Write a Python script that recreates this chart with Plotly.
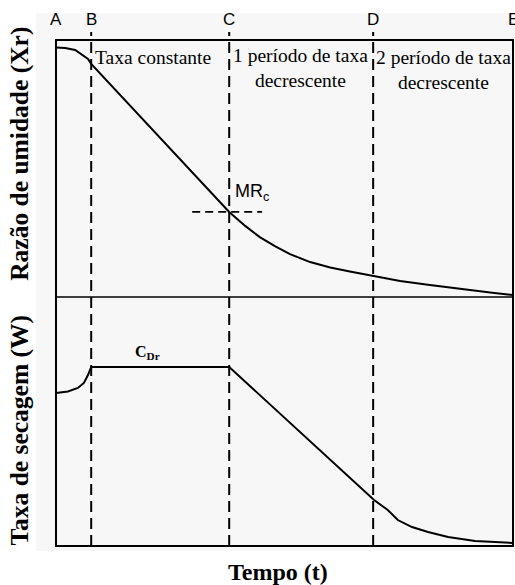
import plotly.graph_objects as go

# Drying kinetics: moisture ratio (top) and drying rate (bottom) vs time
t_xr = [0.0, 0.20, 0.42, 0.59, 0.70, 0.77, 3.79, 4.14, 4.46, 4.79, 5.12, 5.56,
        6.00, 6.43, 6.94, 7.53, 8.18, 8.84, 9.50, 10.0]
xr = [1.000, 0.998, 0.990, 0.970, 0.954, 0.934, 0.341, 0.285, 0.240, 0.204,
      0.172, 0.140, 0.118, 0.102, 0.084, 0.064, 0.048, 0.032, 0.018, 0.008]

t_w = [0.0, 0.26, 0.48, 0.61, 0.70, 0.77, 3.79, 6.96, 7.26, 7.48, 7.79, 8.14,
       8.58, 9.17, 9.61, 10.0]
w = [0.855, 0.863, 0.883, 0.911, 0.955, 1.0, 1.0, 0.257, 0.201, 0.145, 0.106,
     0.078, 0.050, 0.028, 0.022, 0.017]

stage_names = ["A", "B", "C", "D", "E"]
stage_t = [0.0, 0.77, 3.79, 6.94, 10.0]
xr_critical = 0.341
mr_dash_t = [2.98, 4.51]

SERIF = "Liberation Serif"
SANS = "Liberation Sans"
MID = 0.4921

fig = go.Figure()
fig.add_trace(go.Scatter(x=t_xr, y=xr, mode="lines", line=dict(color="black", width=2),
                         xaxis="x", yaxis="y", showlegend=False, hoverinfo="skip"))
fig.add_trace(go.Scatter(x=t_w, y=w, mode="lines", line=dict(color="black", width=2),
                         xaxis="x", yaxis="y2", showlegend=False, hoverinfo="skip"))
# horizontal dashed marker at the critical moisture ratio
fig.add_trace(go.Scatter(x=mr_dash_t, y=[xr_critical, xr_critical], mode="lines",
                         line=dict(color="black", width=1.8, dash="8px,5px"),
                         xaxis="x", yaxis="y", showlegend=False, hoverinfo="skip"))

shapes = [
    dict(type="rect", xref="paper", yref="paper", x0=-0.0438, x1=1.01, y0=-0.0099, y1=1.053,
         fillcolor="#f7f7f7", line=dict(width=0), layer="below"),
    dict(type="rect", xref="paper", yref="paper", x0=0, x1=1, y0=0, y1=1,
         line=dict(color="black", width=2), layer="above"),
    dict(type="line", xref="paper", yref="paper", x0=0, x1=1, y0=MID, y1=MID,
         line=dict(color="black", width=1.5), layer="above"),
]
for tv in stage_t[1:4]:
    shapes.append(dict(type="line", xref="x", yref="paper", x0=tv, x1=tv, y0=0, y1=1.0158,
                       line=dict(color="black", width=2, dash="11px,6px"), layer="above"))

ann = []
for name, tv in zip(stage_names, stage_t):
    ann.append(dict(x=tv, y=1.040, xref="x", yref="paper", text=name, showarrow=False,
                    font=dict(family=SANS, size=17, color="black"),
                    xanchor="center", yanchor="middle"))
ann += [
    dict(x=0.82, y=0.965, xref="x", yref="paper", text="Taxa constante", showarrow=False,
         font=dict(family=SERIF, size=19.5, color="black"), xanchor="left", yanchor="middle"),
    dict(x=5.34, y=0.9437, xref="x", yref="paper", text="1 período de taxa<br>decrescente",
         showarrow=False, font=dict(family=SERIF, size=19.5, color="black"),
         xanchor="center", yanchor="middle"),
    dict(x=8.47, y=0.9410, xref="x", yref="paper", text="2 período de taxa<br>decrescente",
         showarrow=False, font=dict(family=SERIF, size=19.5, color="black"),
         xanchor="center", yanchor="middle"),
    dict(x=3.87, y=0.6996, xref="x", yref="paper", text="MR<sub>c</sub>", showarrow=False,
         font=dict(family=SANS, size=18, color="black"), xanchor="left", yanchor="middle"),
    dict(x=2.01, y=0.383, xref="x", yref="paper", text="<b>C<sub>Dr</sub></b>", showarrow=False,
         font=dict(family=SERIF, size=16, color="black"), xanchor="center", yanchor="middle"),
    dict(x=-0.0788, y=0.775, xref="paper", yref="paper", text="<b>Razão de umidade (Xr)</b>",
         showarrow=False, textangle=-90, font=dict(family=SERIF, size=25.5, color="black"),
         xanchor="center", yanchor="middle"),
    dict(x=-0.0788, y=0.230, xref="paper", yref="paper", text="<b>Taxa de secagem (W)</b>",
         showarrow=False, textangle=-90, font=dict(family=SERIF, size=25.5, color="black"),
         xanchor="center", yanchor="middle"),
    dict(x=0.486, y=-0.051, xref="paper", yref="paper", text="<b>Tempo (t)</b>",
         showarrow=False, font=dict(family=SERIF, size=24, color="black"),
         xanchor="center", yanchor="middle"),
]

fig.update_layout(
    width=515, height=585,
    margin=dict(l=56, r=2, t=40, b=39),
    paper_bgcolor="white", plot_bgcolor="rgba(0,0,0,0)",
    xaxis=dict(range=[0, 10], domain=[0, 1], anchor="y2", showgrid=False, zeroline=False,
               showticklabels=False, ticks="", showline=False),
    yaxis=dict(range=[0, 1.03], domain=[MID, 1], anchor="x", showgrid=False, zeroline=False,
               showticklabels=False, ticks="", showline=False),
    yaxis2=dict(range=[0, 1.391], domain=[0, MID], anchor="x", showgrid=False, zeroline=False,
                showticklabels=False, ticks="", showline=False),
    shapes=shapes, annotations=ann,
)

fig.write_html("out.html")
